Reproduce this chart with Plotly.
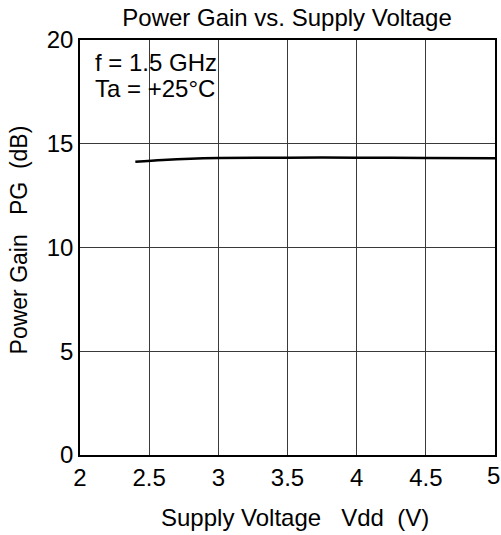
import plotly.graph_objects as go

vdd = [2.4, 2.6, 2.8, 3.0, 3.5, 4.0, 4.5, 5.0]
pg = [14.13, 14.22, 14.28, 14.31, 14.33, 14.33, 14.31, 14.30]

x_ticks = [2, 2.5, 3, 3.5, 4, 4.5, 5]
x_labels = ["2", "2.5", "3", "3.5", "4", "4.5", ""]
last_x_label = "5"
y_ticks = [0, 5, 10, 15, 20]

font = "Liberation Sans, Arial, sans-serif"
FS = 24
NB = "\u00a0"
x_title = "Supply Voltage" + NB * 3 + "Vdd" + NB * 2 + "(V)"
y_title = "Power Gain" + NB * 3 + "PG" + NB * 2 + "(dB)"

fig = go.Figure()
fig.add_trace(go.Scatter(x=vdd, y=pg, mode="lines", line=dict(color="black", width=2.5, shape="spline"),
                         showlegend=False, hoverinfo="skip"))

fig.update_layout(
    width=501, height=535,
    margin=dict(l=80, r=6, t=40, b=80),
    paper_bgcolor="white", plot_bgcolor="white",
    font=dict(family=font, size=FS, color="black"),
    title=dict(text="Power Gain vs. Supply Voltage", x=0.573, xanchor="center", y=0.967, yanchor="middle",
               font=dict(size=FS)),
    xaxis=dict(range=[2, 5], tickvals=x_ticks, ticktext=x_labels, showgrid=True, gridcolor="#3a3a3a", gridwidth=1,
               showline=True, linecolor="black", linewidth=1.5, mirror=True, ticks="", zeroline=False,
               tickfont=dict(size=FS), automargin=False),
    yaxis=dict(range=[0, 20], tickvals=y_ticks, showgrid=True, gridcolor="#3a3a3a", gridwidth=1,
               showline=True, linecolor="black", linewidth=1.5, mirror=True, ticks="", zeroline=False,
               tickfont=dict(size=FS), automargin=False),
    annotations=[
        dict(text="f = 1.5 GHz", x=0, y=1, xref="paper", yref="paper",
             xanchor="left", yanchor="middle", xshift=13, yshift=-22, showarrow=False, font=dict(size=FS)),
        dict(text="Ta = +25°C", x=0, y=1, xref="paper", yref="paper",
             xanchor="left", yanchor="middle", xshift=13, yshift=-48, showarrow=False, font=dict(size=FS)),
        dict(text=last_x_label, x=5, y=0, xref="x", yref="paper",
             xanchor="center", yanchor="middle", xshift=-2, yshift=-20, showarrow=False, font=dict(size=FS)),
        dict(text=x_title, x=0.517, y=0, xref="paper", yref="paper",
             xanchor="center", yanchor="middle", yshift=-62, showarrow=False, font=dict(size=FS)),
        dict(text=y_title, x=0, y=0.517, xref="paper", yref="paper", textangle=-90,
             xanchor="center", yanchor="middle", xshift=-61, showarrow=False, font=dict(size=23)),
    ],
)

fig.write_html("out.html", config={"displayModeBar": False},
               post_script="document.body.style.margin='0';document.body.style.padding='0';")
